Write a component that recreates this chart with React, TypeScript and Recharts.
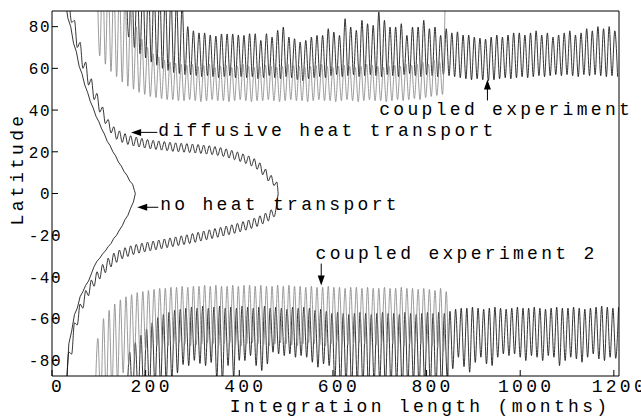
import React from "react"
import { LineChart, Line, XAxis, YAxis } from "recharts"

const W = 641
const H = 417
const MARGIN = { top: 10, right: 21, bottom: 11, left: 12 }
const X_DOMAIN: [number, number] = [0, 1211]
const Y_DOMAIN: [number, number] = [-87.5, 87.5]
const xTicks = [0, 200, 400, 600, 800, 1000, 1200]
const yTicks = [-80, -60, -40, -20, 0, 20, 40, 60, 80]
const FONT = "'Liberation Mono', 'DejaVu Sans Mono', monospace"
const BLACK = "#111"
const GRAY = "#8a8a8a"

// no heat transport: month / latitude pairs of the two ice edges
const noHeatNorthMonths = [28, 34, 40, 46, 52, 58, 64, 70, 76, 82, 88, 94, 100, 106, 112, 118, 124, 130, 136, 142, 148, 154, 160, 166, 172, 176, 178]
const noHeatNorthLat = [93, 84, 80, 72, 68, 61, 57.5, 52, 48.5, 44, 41, 37, 34.5, 31, 28.5, 25, 23, 20, 18, 15, 13.2, 10.5, 8.8, 6, 4.5, 1.5, 0]
const noHeatSouthMonths = [30, 36, 42, 48, 54, 60, 66, 72, 78, 84, 90, 96, 102, 108, 114, 120, 126, 132, 138, 144, 150, 156, 162, 168, 174, 178]
const noHeatSouthLat = [-96, -72, -66, -58, -55, -49.5, -47, -44, -42, -38.5, -35, -32.5, -31, -29, -27.5, -25.5, -24, -21.5, -20, -17.5, -15.5, -12.5, -10.5, -7, -4, 0]

// diffusive heat transport (yearly extremes)
const diffNorthStart = 36
const diffNorthHigh = [96, 83, 72.5, 63, 55, 48, 41.5, 35.5, 32, 30, 28.7, 27.7, 27, 26.4, 25.9, 25.5, 25.2, 24.9, 24.6, 24.3, 24.1, 23.9, 23.7, 23.5, 23.2, 22.9, 22.5, 22, 21.4, 20.7, 19.9, 19, 18, 16.7, 14.7, 11.7, 8.7, 5.5]
const diffNorthLow = [82, 70, 60, 52, 45, 39, 33.5, 29, 26, 24.5, 23.5, 22.8, 22.3, 21.8, 21.4, 21.1, 20.8, 20.5, 20.2, 20, 19.8, 19.6, 19.4, 19.2, 18.9, 18.6, 18.2, 17.7, 17, 16.2, 15.3, 14.3, 13.2, 11.6, 9, 6, 3.8]
const diffSouthStart = 30
const diffSouthLow = [-100, -77, -63, -55, -49, -44.5, -41, -38, -35.2, -33, -31.3, -30.2, -29.3, -28.6, -28, -27.5, -27, -26.5, -26, -25.5, -25, -24.5, -24, -23.4, -22.8, -22.2, -21.6, -21, -20.4, -19.8, -19.1, -18.4, -17.6, -16.8, -15.8, -14.6, -13.2, -11.2]
const diffSouthHigh = [-76, -62, -53, -46.5, -41.5, -37.5, -34, -31, -28.6, -27.1, -26, -25.1, -24.4, -23.8, -23.3, -22.8, -22.3, -21.8, -21.3, -20.8, -20.3, -19.8, -19.2, -18.6, -18, -17.4, -16.8, -16.2, -15.6, -15, -14.3, -13.5, -12.7, -11.8, -10.7, -9.4, -7.8, -5]
const diffMeetMonth = 483

// coupled experiment (black)
const coupledNorthStart = 158
const coupledNorthHigh = [
  105, 104, 102, 101, 100, 99, 97, 96, 95, 93, 91,
  80, 78, 77, 77, 76, 75.5, 76.5, 76.5, 76.5, 76,
  75.8, 76.6, 76.6, 73.4, 76.6, 75, 78.2, 79.8, 75, 74.2, 72.6, 73.4, 75, 75.8, 75.8, 79, 77.4, 75.8,
  83.8, 79.8, 78.2, 83, 81.4, 80.6, 87, 83, 79.8, 79.8, 81.4, 75.8, 79.8, 79.8, 83, 79, 79.8, 75.8,
  79, 77, 77.5, 76, 76, 75, 74.5, 74, 75, 76, 75, 76, 77, 77, 76, 77, 78, 76, 77, 75, 76, 77, 78, 76,
  77, 79, 78, 80, 79, 80, 78,
]
const coupledNorthLow = [
  75, 70, 67, 65, 63, 61.5, 60, 59, 58, 57.5, 57,
  57, 56.5, 56, 56.5, 56, 55.5, 56, 56.5, 55.5, 56,
  55.5, 56, 55, 55.5, 56.5, 55.5, 55, 56, 55.5, 54.5, 54, 55, 55.5, 56, 55.5, 56.5, 57, 56,
  56.5, 57, 56, 56.5, 57, 56.5, 56, 57, 56.5, 56, 57, 57.5, 56.5, 56, 57, 56.5, 56, 57,
  56.5, 56, 55.5, 55, 54.5, 55, 54.5, 54, 54.5, 55, 55.5, 55, 55.5, 56, 55.5, 56, 56.5, 56, 56.5,
  57, 56.5, 57, 56.5, 56, 57, 56.5, 57, 56.5, 56, 56.5, 56,
]
const coupledSouthStart = 160
const coupledSouthLow = [
  -100, -98, -97, -96, -94, -93, -92, -90, -89, -86, -82,
  -82.5, -80, -81.5, -82.5, -81, -89, -90, -82.5, -88, -80,
  -80.1, -77.7, -82.5, -84.9, -81.7, -76.1, -76.9, -77.7, -76.9, -78.5, -77.7, -78.5, -80.9, -83.3, -81.7, -82.5, -90,
  -92, -91, -93, -90, -92, -94, -91, -90, -93, -92, -91, -94, -92, -90, -93, -91, -92, -94, -93,
  -88, -84, -78.5, -83, -85.7, -81,
  -78.5, -81.7, -82.5, -78.5, -76.9, -77.7, -76.9, -78.5, -80.1, -77.7, -78.5, -80.1, -77.7, -78.5,
  -82.5, -80.1, -78.5, -79.3, -80.9, -78.5, -76.9, -79.3, -80.1, -78.5, -79,
]
const coupledSouthHigh = [
  -76, -71.5, -68, -65, -62, -59.5, -58, -57, -56, -55.5,
  -55, -54.5, -55, -54, -55, -54.5, -54, -55, -54.5, -55, -54, -54.5, -55, -54.5, -54, -55, -54.5,
  -55, -55.5, -54.5, -55, -54.5, -55, -56, -55.5, -56.5,
  -57.5, -57, -57.5, -58, -57.5, -57, -57.5, -58, -57.5, -57, -57.5, -57.5, -58, -57, -57.5, -58,
  -57.5, -57, -57.5, -57, -57.5,
  -56.5, -55.5, -55, -55, -54.5, -55, -55.5, -55, -54.5, -55, -55.5, -55, -54.5, -55, -55, -54.5,
  -55, -55.5, -55, -54.5, -55, -55, -54.5, -55, -55.5, -55, -54.5, -54, -54.5, -55, -54.5,
]

// coupled experiment 2 (gray)
const coupled2NorthStart = 96
const coupled2NorthHigh = [
  110, 108, 105, 102, 99, 95, 90,
  80, 74, 70, 67, 65.5, 64, 63, 62.5,
  62, 61.5, 62, 61, 61.5, 62, 60.5, 61, 61.5, 60.5, 61, 62, 61, 60.5, 61, 61.5, 61, 60.5, 61, 62,
  61.5, 61, 60.5, 61, 61.5, 62, 61, 60.5, 61, 61.5, 61, 60.5, 61, 62, 61.5, 61, 60.5, 61, 61.5, 61,
  62, 61.5, 62, 63, 62, 64, 63,
  96,
]
const coupled2NorthLow = [
  66, 62, 58.5, 56, 53.5, 51.5, 50, 48.5, 47.5, 46.5, 46, 45.5, 45, 45,
  44.5, 44.5, 45, 44.5, 44, 44.5, 45, 44.5, 44.5, 44, 44.5, 45, 44.5, 44, 44.5, 44.5, 45, 44.5,
  44, 44.5, 45, 44.5, 44.5, 44, 44.5, 45, 44.5, 44.5, 44, 44.5, 45, 44.5, 44, 44.5, 45, 44.5,
  44.5, 44, 44.5, 45, 44.5, 45, 45.5, 45, 46, 46.5, 47, 47.5,
]
const coupled2SouthStart = 92
const coupled2SouthLow = [
  -100, -100, -98, -94, -90, -86, -82, -79, -77, -75,
  -74, -73, -72.5, -73, -72, -71.5, -72, -73, -72.5, -72, -71.5, -72, -73, -72, -71.5, -72.5, -73,
  -72, -71.5, -72, -72.5, -73, -72, -71.5, -72, -72.5, -73, -72, -71.5, -72, -72.5, -73, -72,
  -71.5, -72, -72.5, -72, -71.5, -72, -73, -72.5, -72, -71.5, -72, -72.5, -73, -72, -71.5, -72,
  -72.5, -73, -74, -76,
  -100,
]
const coupled2SouthHigh = [
  -69.5, -60, -56, -53, -51, -49.5, -48.5, -47.5, -47, -46.5,
  -46, -45.5, -45.5, -45, -45, -44.5, -45, -44.5, -44.5, -44, -44.5, -44, -44.5, -44.5, -44, -44.5,
  -44, -44, -44.5, -44, -44.5, -44.5, -44, -44.5, -44, -44.5, -44.5, -45, -44.5, -45, -45, -44.5,
  -45, -45, -45.5, -45, -45, -45.5, -45, -45.5, -45.5, -45, -45.5, -45.5, -45, -45.5, -45.5, -46,
  -45.5, -46, -46.5, -45.5, -47,
]

type Pt = { t: number; v: number }

// interleave the two yearly extremes half a year apart
function seasonal(start: number, first: number[], second: number[]): Pt[] {
  const out: Pt[] = []
  const n = Math.max(first.length, second.length)
  for (let i = 0; i < n; i++) {
    if (i < first.length) out.push({ t: start + 12 * i, v: first[i] })
    if (i < second.length) out.push({ t: start + 6 + 12 * i, v: second[i] })
  }
  return out
}

const zip = (ts: number[], vs: number[]): Pt[] => ts.map((t, i) => ({ t, v: vs[i] }))

const noHeatNorth = zip(noHeatNorthMonths, noHeatNorthLat)
const noHeatSouth = zip(noHeatSouthMonths, noHeatSouthLat)
const diffNorth = [...seasonal(diffNorthStart, diffNorthHigh, diffNorthLow), { t: diffMeetMonth, v: 0 }]
const diffSouth = [...seasonal(diffSouthStart, diffSouthLow, diffSouthHigh), { t: diffMeetMonth, v: 0 }]
const coupledNorth = seasonal(coupledNorthStart, coupledNorthHigh, coupledNorthLow)
const coupledSouth = seasonal(coupledSouthStart, coupledSouthLow, coupledSouthHigh)
const coupled2North = seasonal(coupled2NorthStart, coupled2NorthHigh, coupled2NorthLow)
const coupled2South = seasonal(coupled2SouthStart, coupled2SouthLow, coupled2SouthHigh)

// plot box, used to place the annotations in data units
const PLOT_LEFT = MARGIN.left + 40
const PLOT_TOP = MARGIN.top + 1
const PLOT_W = W - PLOT_LEFT - MARGIN.right - 1
const PLOT_H = H - PLOT_TOP - MARGIN.bottom - 30
const sx = (t: number) => PLOT_LEFT + ((t - X_DOMAIN[0]) / (X_DOMAIN[1] - X_DOMAIN[0])) * PLOT_W
const sy = (v: number) => PLOT_TOP + ((Y_DOMAIN[1] - v) / (Y_DOMAIN[1] - Y_DOMAIN[0])) * PLOT_H

const labelStyle = { fontFamily: FONT, fontSize: 18, letterSpacing: 3.3, fill: "#000" }

const XTick = (props: any) => {
  const { x, y, payload } = props
  return (
    <text x={x + 6} y={y} textAnchor="middle" {...labelStyle}>
      {payload.value}
    </text>
  )
}

const YTick = (props: any) => {
  const { x, y, payload } = props
  const neg = payload.value < 0
  return (
    <text x={neg ? x + 11 : x} y={y} dy="0.36em" textAnchor="end" fontFamily={FONT} fontSize={16} letterSpacing={1.5} fill="#000">
      {payload.value}
    </text>
  )
}

function ArrowLeft({ t1, t2, v }: { t1: number; t2: number; v: number }) {
  const x1 = sx(t1), x2 = sx(t2), y = sy(v)
  return (
    <g>
      <line x1={x1} y1={y} x2={x2 + 8} y2={y} stroke="#000" strokeWidth={1} />
      <polygon points={`${x2},${y} ${x2 + 10},${y - 3.5} ${x2 + 10},${y + 3.5}`} fill="#000" />
    </g>
  )
}

function ArrowV({ t, v1, v2 }: { t: number; v1: number; v2: number }) {
  const x = sx(t), y1 = sy(v1), y2 = sy(v2)
  const dir = y2 < y1 ? 1 : -1
  return (
    <g>
      <line x1={x} y1={y1} x2={x} y2={y2 + dir * 8} stroke="#000" strokeWidth={1} />
      <polygon points={`${x},${y2} ${x - 3.5},${y2 + dir * 10} ${x + 3.5},${y2 + dir * 10}`} fill="#000" />
    </g>
  )
}

export default function App() {
  const lineProps = { dataKey: "v", dot: false, isAnimationActive: false, type: "monotone" as const, strokeWidth: 0.85 }
  return (
    <div style={{ position: "absolute", left: 0, top: 0, width: W, height: H, background: "#fff" }}>
      <LineChart width={W} height={H} margin={MARGIN}>
        <XAxis
          type="number"
          dataKey="t"
          domain={X_DOMAIN}
          ticks={xTicks}
          interval={0}
          allowDataOverflow
          height={30}
          tickSize={-6}
          tickMargin={22}
          tick={<XTick />}
          stroke="#000"
        />
        <XAxis
          xAxisId="top"
          orientation="top"
          type="number"
          dataKey="t"
          domain={X_DOMAIN}
          ticks={xTicks}
          interval={0}
          allowDataOverflow
          height={1}
          tickSize={-6}
          tick={false}
          stroke="#000"
        />
        <YAxis
          type="number"
          domain={Y_DOMAIN}
          ticks={yTicks}
          interval={0}
          allowDataOverflow
          width={40}
          tickSize={-6}
          tickMargin={7}
          tick={<YTick />}
          stroke="#000"
        />
        <YAxis
          yAxisId="right"
          orientation="right"
          type="number"
          domain={Y_DOMAIN}
          ticks={yTicks}
          interval={0}
          allowDataOverflow
          width={1}
          tickSize={-6}
          tick={false}
          stroke="#000"
        />
        <Line {...lineProps} data={noHeatNorth} type="linear" stroke={BLACK} />
        <Line {...lineProps} data={noHeatSouth} type="linear" stroke={BLACK} />
        <Line {...lineProps} data={diffNorth} stroke={BLACK} />
        <Line {...lineProps} data={diffSouth} stroke={BLACK} />
        <Line {...lineProps} data={coupledNorth} stroke={BLACK} />
        <Line {...lineProps} data={coupledSouth} stroke={BLACK} />
        <Line {...lineProps} data={coupled2North} stroke={GRAY} xAxisId="top" yAxisId="right" />
        <Line {...lineProps} data={coupled2South} stroke={GRAY} xAxisId="top" yAxisId="right" />
      </LineChart>
      <svg width={W} height={H} style={{ position: "absolute", left: 0, top: 0, pointerEvents: "none" }}>
        <text x={sx(699)} y={sy(37.4)} {...labelStyle}>coupled experiment</text>
        <ArrowV t={930} v1={44.6} v2={54.7} />
        <text x={sx(227)} y={sy(27.8)} {...labelStyle}>diffusive heat transport</text>
        <ArrowLeft t1={225} t2={169} v={29.3} />
        <text x={sx(231)} y={sy(-7.7)} {...labelStyle}>no heat transport</text>
        <ArrowLeft t1={227} t2={182} v={-6.6} />
        <text x={sx(563)} y={sy(-31.2)} {...labelStyle}>coupled experiment 2</text>
        <ArrowV t={575} v1={-33.6} v2={-44.1} />
        <text x={420} y={412} textAnchor="middle" {...labelStyle}>Integration length (months)</text>
        <text transform="translate(23,169) rotate(-90)" textAnchor="middle" {...labelStyle}>Latitude</text>
      </svg>
    </div>
  )
}
